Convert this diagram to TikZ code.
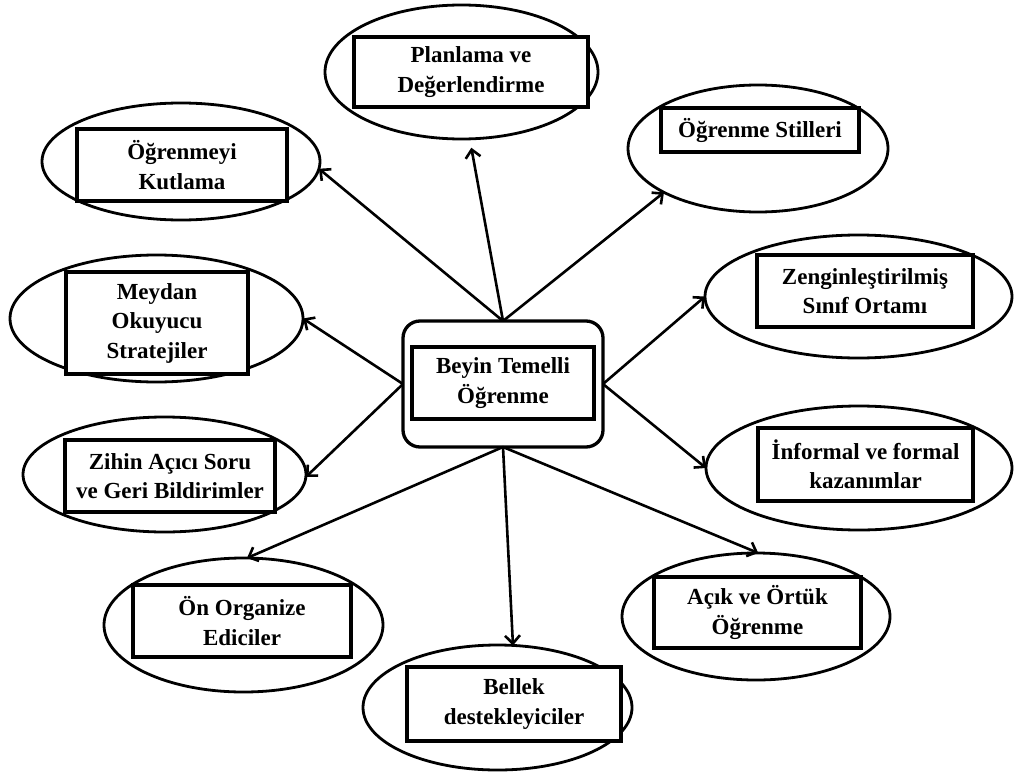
\documentclass[tikz,border=0pt]{standalone}
\usepackage{fontspec}
\setmainfont{Liberation Serif}
\usetikzlibrary{shapes.geometric,arrows.meta}

\tikzset{
  bubble/.style={ellipse, draw, line width=2.8pt, inner sep=0pt, outer sep=0pt},
  label box/.style={rectangle, draw, fill=white, line width=3.6pt, inner sep=0pt,
    outer sep=0pt, align=center,
    font=\fontsize{23}{29.5}\selectfont\bfseries},
  hub/.style={rectangle, draw, rounded corners=17pt, line width=3.3pt,
    minimum width=200pt, minimum height=126pt, inner sep=0pt, outer sep=0pt},
  link/.style={line width=2.6pt,
    -{Straight Barb[length=8pt,width=15pt,line width=2.6pt]}}
}

\begin{document}
\begin{tikzpicture}[x=1pt,y=-1pt]
\useasboundingbox (0,0) rectangle (1016,773);

% outer bubbles
\node[bubble, minimum width=273pt, minimum height=134pt] (e1) at (461.5,72) {};
\node[bubble, minimum width=278pt, minimum height=117pt] (e2) at (181,161.5) {};
\node[bubble, minimum width=260pt, minimum height=127pt] (e3) at (758,148.5) {};
\node[bubble, minimum width=293pt, minimum height=127pt] (e4) at (156.5,318.5) {};
\node[bubble, minimum width=283pt, minimum height=115pt] (e5) at (164.5,474.5) {};
\node[bubble, minimum width=307pt, minimum height=123pt] (e6) at (858.5,296.5) {};
\node[bubble, minimum width=306pt, minimum height=124pt] (e7) at (859,468) {};
\node[bubble, minimum width=279pt, minimum height=134pt] (e8) at (243.5,625) {};
\node[bubble, minimum width=269pt, minimum height=125pt] (e9) at (497.5,707.5) {};
\node[bubble, minimum width=268pt, minimum height=127pt] (e10) at (756,616.5) {};

% labelled boxes
\node[label box, minimum width=234pt, minimum height=70pt] (r1) at (471,72) {Planlama ve\\Değerlendirme};
\node[label box, minimum width=210pt, minimum height=72pt] (r2) at (182,165) {Öğrenmeyi\\Kutlama};
\node[label box, minimum width=198pt, minimum height=44pt] (r3) at (760,130) {Öğrenme Stilleri};
\node[label box, minimum width=182pt, minimum height=102pt] (r4) at (157,323) {Meydan\\Okuyucu\\Stratejiler};
\node[label box, minimum width=210pt, minimum height=72pt] (r5) at (170,476) {Zihin Açıcı Soru\\ve Geri Bildirimler};
\node[label box, minimum width=216pt, minimum height=72pt] (r6) at (865,291) {Zenginleştirilmiş\\Sınıf Ortamı};
\node[label box, minimum width=215pt, minimum height=73pt] (r7) at (865.5,464.5) {İnformal ve formal\\kazanımlar};
\node[label box, minimum width=218pt, minimum height=72pt] (r8) at (242,621) {Ön Organize\\Ediciler};
\node[label box, minimum width=214pt, minimum height=74pt] (r9) at (514,704) {Bellek\\destekleyiciler};
\node[label box, minimum width=207pt, minimum height=71pt] (r10) at (757.5,612.5) {Açık ve Örtük\\Öğrenme};

% central topic
\node[hub] (c) at (503,384) {};
\node[label box, minimum width=182pt, minimum height=72pt] (ci) at (503,383) {Beyin Temelli\\Öğrenme};

% connectors
\draw[link, shorten >=9pt] (c.north) -- (e1.-83.6);
\draw[link] (c.north) -- (e2.-3.5);
\draw[link] (c.north) -- (e3.205.8);
\draw[link] (c.west) -- (e4.-0.6);
\draw[link] (c.west) -- (e5.-1.4);
\draw[link] (c.east) -- (e6.180.6);
\draw[link] (c.east) -- (e7.180);
\draw[link] (c.south) -- (e8.87);
\draw[link] (c.south) -- (e9.76);
\draw[link] (c.south) -- (e10.88);
\end{tikzpicture}
\end{document}
